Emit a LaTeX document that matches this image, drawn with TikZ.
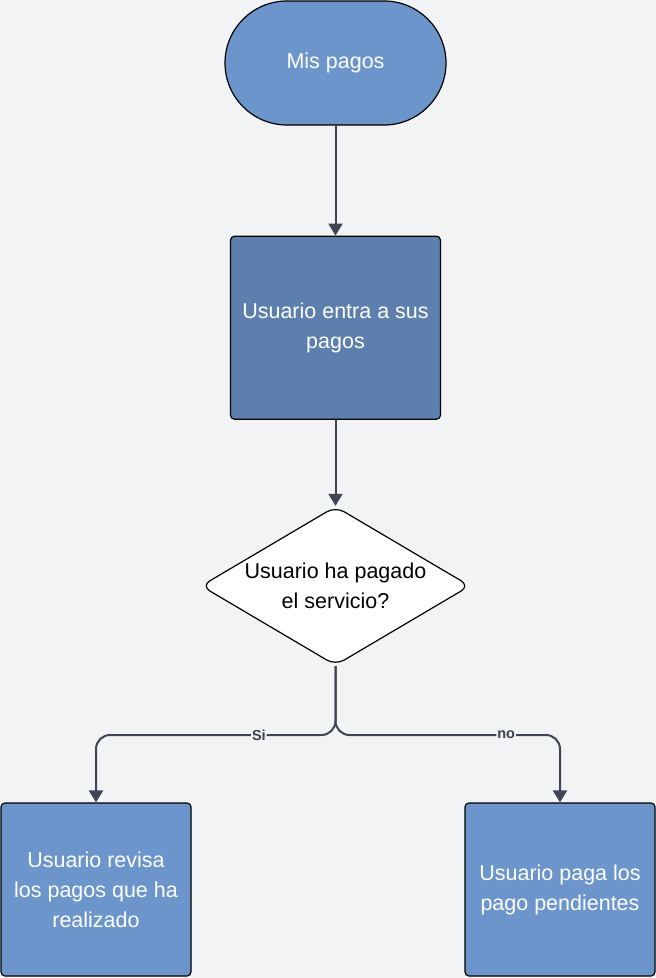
\documentclass[tikz,border=0pt]{standalone}
\usepackage{fontspec}
\setmainfont{Liberation Sans}
\usepackage{tikz}
\usetikzlibrary{positioning,arrows.meta,shapes.geometric}
\definecolor{bgcol}{HTML}{F2F3F5}
\definecolor{lightblue}{HTML}{6C96CB}
\definecolor{darkblue}{HTML}{5D7FAD}
\definecolor{linecol}{HTML}{3F4451}

\begin{document}
\begin{tikzpicture}[x=1pt,y=-1pt,
      every node/.style={align=center,font=\fontsize{21.5}{30}\selectfont},
      box/.style={draw=black,line width=1.2pt,rounded corners=4pt,fill=lightblue,text=white,minimum width=190pt,minimum height=173pt},
      term/.style={draw=black,line width=1.2pt,rounded corners=62pt,fill=lightblue,text=white,minimum width=221pt,minimum height=124pt},
      decide/.style={draw=black,line width=1.2pt,diamond,aspect=1.68,rounded corners=10pt,fill=white,inner sep=0pt,minimum width=269pt,minimum height=159pt},
      flow/.style={draw=linecol,line width=2pt,-{Triangle[width=14pt,length=12pt]}},
      lbl/.style={fill=bgcol,inner sep=1pt,font=\fontsize{14.5}{16}\bfseries\selectfont,text=linecol}]
      \fill[bgcol] (0,0) rectangle (656,978);
      \useasboundingbox (0,0) rectangle (656,978);
      \node (start) [term] at (335.5,63) {Mis pagos};
      \node (entra) [box,fill=darkblue,minimum width=210pt,minimum height=183pt,below=110pt of start] {Usuario entra a sus\\pagos};
      \node (pagado) [decide,below=86pt of entra] {Usuario ha pagado\\el servicio?};
      \node (revisa) [box] at (96,889.5) {Usuario revisa\\los pagos que ha\\realizado};
      \node (paga) [box] at (560,889.5) {Usuario paga los\\pago pendientes};
      \draw[flow] (start) -- (entra);
      \draw[flow] (entra) -- (pagado);
      \draw[flow,rounded corners=14pt] (pagado.south) -- ++(0,69) -| node[lbl,pos=0.16] {Si} (revisa.north);
      \draw[flow,rounded corners=14pt] (pagado.south) -- ++(0,69) -| node[lbl,pos=0.38] {no} (paga.north);
    \end{tikzpicture}
\end{document}
